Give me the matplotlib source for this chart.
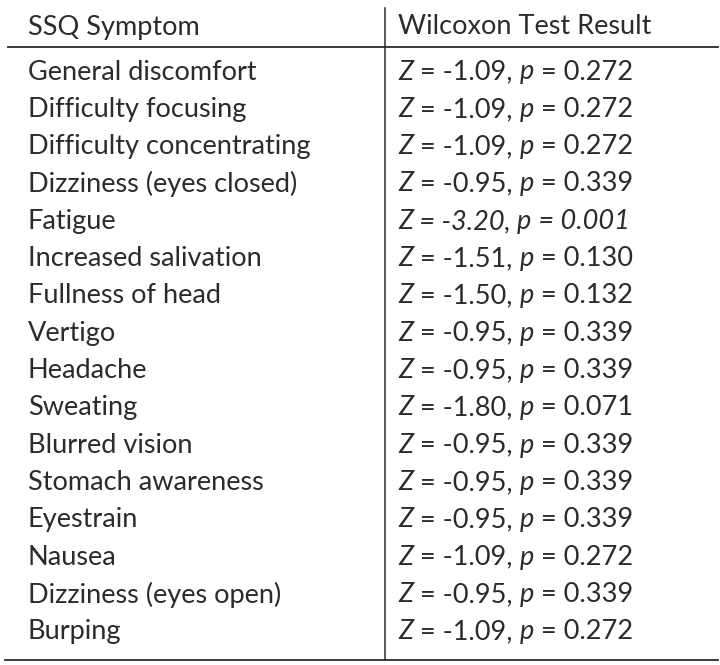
import matplotlib.pyplot as plt

symptoms = ['General discomfort', 'Difficulty focusing', 'Difficulty concentrating',
            'Dizziness (eyes closed)', 'Fatigue', 'Increased salivation',
            'Fullness of head', 'Vertigo', 'Headache', 'Sweating', 'Blurred vision',
            'Stomach awareness', 'Eyestrain', 'Nausea', 'Dizziness (eyes open)', 'Burping']
z_vals = ['-1.09', '-1.09', '-1.09', '-0.95', '-3.20', '-1.51', '-1.50', '-0.95',
          '-0.95', '-1.80', '-0.95', '-0.95', '-0.95', '-1.09', '-0.95', '-1.09']
p_vals = ['0.272', '0.272', '0.272', '0.339', '0.001', '0.130', '0.132', '0.339',
          '0.339', '0.071', '0.339', '0.339', '0.339', '0.272', '0.339', '0.272']
headers = ['SSQ Symptom', 'Wilcoxon Test Result']

plt.rcParams['font.family'] = ['Lato', 'DejaVu Sans']
col = '#2b2b2b'
fs = 19.5

fig = plt.figure(figsize=(7.2, 6.65), dpi=100)
ax = fig.add_axes([0, 0, 1, 1])
ax.set_xlim(0, 720)
ax.set_ylim(665, 0)
ax.axis('off')

# rules
ax.plot([8, 718], [47, 47], color=col, lw=1.3)
ax.plot([5, 718], [660, 660], color=col, lw=1.3)
ax.plot([385, 385], [8, 660], color=col, lw=1.1)

ax.text(28, 27, headers[0], fontsize=fs, color=col, va='center')
ax.text(398, 27, headers[1], fontsize=fs, color=col, va='center')

y0, dy = 72, 37.33
for i, (s, z, p) in enumerate(zip(symptoms, z_vals, p_vals)):
    y = y0 + i * dy
    ax.text(28, y, s, fontsize=fs, color=col, va='center')
    sig = float(p) < 0.05
    pieces = [('Z', True), (' = ' + z + ', ', sig), ('p', True), (' = ' + p, sig)]
    prev = ax.text(398, y, pieces[0][0], fontsize=fs, color=col, va='center',
                   style='italic')
    for txt, it in pieces[1:]:
        prev = ax.annotate(txt, xy=(1, 0), xycoords=prev, va='bottom', ha='left',
                           fontsize=fs, color=col,
                           style='italic' if it else 'normal')

fig.savefig('out.png', dpi=100, facecolor='white')
